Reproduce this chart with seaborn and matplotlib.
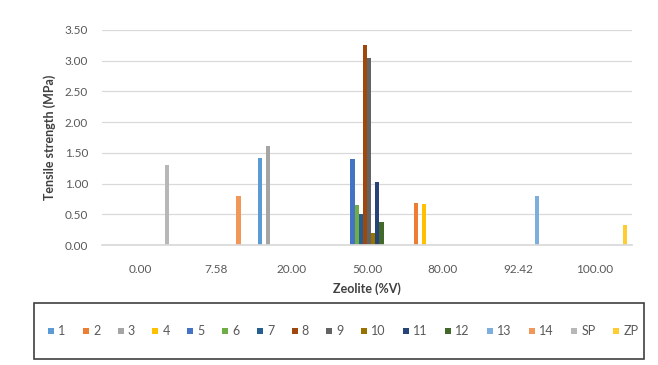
import numpy as np
import pandas as pd
import matplotlib
matplotlib.use("Agg")
import matplotlib.pyplot as plt
import seaborn as sns
from matplotlib.lines import Line2D
from matplotlib.patches import Rectangle

# Zeolite content categories (x axis)
categories = ["0.00", "7.58", "20.00", "50.00", "80.00", "92.42", "100.00"]

# Sample series names (legend order)
series = ["1", "2", "3", "4", "5", "6", "7", "8", "9", "10",
          "11", "12", "13", "14", "SP", "ZP"]

# Measured tensile strengths (MPa): (series, zeolite category, value)
meas_series = ["SP", "14", "1", "3", "5", "6", "7", "8", "9", "10", "11", "12",
               "2", "4", "13", "ZP"]
meas_category = ["0.00", "7.58", "20.00", "20.00", "50.00", "50.00", "50.00",
                 "50.00", "50.00", "50.00", "50.00", "50.00", "80.00", "80.00",
                 "92.42", "100.00"]
meas_value = [1.31, 0.80, 1.42, 1.61, 1.40, 0.65, 0.50, 3.25, 3.05, 0.20,
              1.02, 0.38, 0.68, 0.66, 0.80, 0.32]

palette = ["#5B9BD5", "#ED7D31", "#A5A5A5", "#FFC000", "#4472C4", "#70AD47",
           "#255E91", "#9E480E", "#636363", "#997300", "#264478", "#43682B",
           "#7CAFDD", "#F1975A", "#B7B7B7", "#FFCD33"]

df = pd.DataFrame({"Zeolite": meas_category, "Series": meas_series,
                   "Strength": meas_value})

sns.set_theme(style="white")
plt.rcParams["font.family"] = ["Lato", "DejaVu Sans"]

W, H = 658, 365
fig = plt.figure(figsize=(W / 100, H / 100), dpi=100)
ax = fig.add_axes([102 / W, 1 - 245 / H, 530 / W, 215 / H])

sns.barplot(data=df, x="Zeolite", y="Strength", hue="Series",
            order=categories, hue_order=series, palette=palette,
            width=0.88, gap=0, dodge=True, errorbar=None, ax=ax,
            legend=False, saturation=1, linewidth=0)

ax.set_ylim(0, 3.5)
ax.set_yticks(np.arange(0, 3.51, 0.5))
ax.set_yticklabels([f"{v:.2f}" for v in np.arange(0, 3.51, 0.5)])
ax.set_xlim(-0.5, len(categories) - 0.5)
ax.yaxis.grid(True, color="#D9D9D9", linewidth=0.9)
ax.set_axisbelow(True)
for s in ["top", "right", "left"]:
    ax.spines[s].set_visible(False)
ax.spines["bottom"].set_color("#D9D9D9")
ax.tick_params(axis="both", length=0, labelsize=8.5, labelcolor="#595959")
ax.tick_params(axis="x", pad=14)
ax.tick_params(axis="y", pad=10)

ax.set_xlabel("Zeolite (%V)", fontsize=9, fontweight="bold", color="#404040",
              labelpad=5)
ax.set_ylabel("Tensile strength (MPa)", fontsize=9, fontweight="bold",
              color="#404040", labelpad=6)

# Boxed legend under the plot
fig.add_artist(Rectangle((34 / W, 1 - 359 / H), 610 / W, 56 / H,
                         transform=fig.transFigure, fill=False,
                         edgecolor="#404040", linewidth=1.2))
handles = [Line2D([], [], linestyle="none", marker="s", markersize=4.5,
                  markerfacecolor=c, markeredgewidth=0, label=s)
           for s, c in zip(series, palette)]
leg = fig.legend(handles=handles, loc="center",
                 bbox_to_anchor=(343 / W, 1 - 331 / H), ncol=16,
                 frameon=False, fontsize=9, handlelength=0.55,
                 handletextpad=0.3, columnspacing=1.35)
for t in leg.get_texts():
    t.set_color("#595959")

fig.savefig("out.png", dpi=100)
